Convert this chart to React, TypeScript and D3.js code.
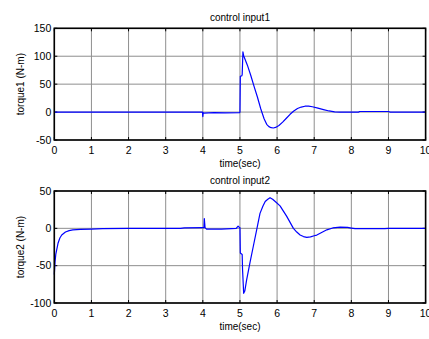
import React from "react";
import * as d3 from "d3";

// Simulated control inputs (N-m) over time (sec)
const time1 = [0, 3.99, 4.0, 4.01, 4.03, 4.3, 4.6, 4.99, 5.0, 5.01, 5.05, 5.06, 5.08, 5.1, 5.2, 5.29, 5.38, 5.47, 5.56, 5.65, 5.72, 5.78, 5.84, 5.9, 5.96, 6.05, 6.15, 6.25, 6.35, 6.45, 6.55, 6.65, 6.75, 6.85, 6.95, 7.1, 7.25, 7.4, 7.55, 7.7, 8.2, 8.22, 9.0, 9.05, 10];
const torque1 = [0, 0, -8, -1, -2, -1, -1.5, -1, 0, 64, 65, 67, 108, 101, 84, 66, 46, 27, 6, -12, -22, -26, -28, -28.5, -27.5, -24, -18, -11, -4, 2, 6.5, 9, 10.5, 10.5, 9.5, 7, 4.5, 2, 0.5, 0, 0, 1, 1, 0, 0];

const time2 = [0, 0.02, 0.04, 0.06, 0.1, 0.15, 0.2, 0.3, 0.4, 0.5, 0.7, 1.0, 1.3, 2.0, 3.4, 3.5, 4.0, 4.03, 4.04, 4.06, 4.1, 4.5, 4.9, 4.95, 4.99, 5.0, 5.01, 5.06, 5.07, 5.1, 5.13, 5.18, 5.27, 5.36, 5.45, 5.54, 5.62, 5.68, 5.75, 5.81, 5.88, 5.95, 6.08, 6.17, 6.26, 6.35, 6.44, 6.53, 6.62, 6.71, 6.8, 6.9, 7.0, 7.07, 7.2, 7.34, 7.5, 7.7, 7.9, 8.0, 8.1, 8.9, 9.0, 10];
const torque2 = [-62, -45, -35, -30, -20, -13, -9, -5, -3, -2, -1.5, -1, -0.5, 0, 0, 0.5, 1, 1, 13, 1, -1, -1, 0, 3, 1, 1, -33, -35, -55, -87, -84, -69, -46, -24, -2, 20, 30, 36, 39, 41, 39, 36, 30, 23, 16, 8, 0, -5, -9, -11, -12, -11.5, -10, -9, -5.5, -2, 0.5, 1.5, 1.2, 0.3, -0.5, -0.5, 0, 0];

const xTicks = [0, 1, 2, 3, 4, 5, 6, 7, 8, 9, 10];
const yTicks1 = [-50, 0, 50, 100, 150];
const yTicks2 = [-100, -50, 0, 50];

const FONT = "'Liberation Sans', Arial, sans-serif";

type PanelProps = {
  top: number;
  bottom: number;
  title: string;
  ylabel: string;
  yDomain: [number, number];
  yTicks: number[];
  t: number[];
  v: number[];
};

const LEFT = 54.3;
const RIGHT = 425.6;

function Panel({ top, bottom, title, ylabel, yDomain, yTicks, t, v }: PanelProps) {
  const x = d3.scaleLinear().domain([0, 10]).range([LEFT, RIGHT]);
  const y = d3.scaleLinear().domain(yDomain).range([bottom, top]);
  const line = d3
    .line<number>()
    .x((_, i) => x(t[i]))
    .y((d) => y(d));
  const path = line(v) || "";
  const midX = (LEFT + RIGHT) / 2;
  const midY = (top + bottom) / 2;
  return (
    <g fontFamily={FONT} fontSize={10.5} fill="#000">
      {/* grid */}
      {xTicks.map((tk) => (
        <line key={"gx" + tk} x1={x(tk)} x2={x(tk)} y1={top} y2={bottom} stroke="#8e8e8e" strokeWidth={1} />
      ))}
      {yTicks.map((tk) => (
        <line key={"gy" + tk} x1={LEFT} x2={RIGHT} y1={y(tk)} y2={y(tk)} stroke="#8e8e8e" strokeWidth={1} />
      ))}
      {/* inward tick marks */}
      {xTicks.map((tk) => (
        <g key={"tx" + tk}>
          <line x1={x(tk)} x2={x(tk)} y1={top} y2={top + 3} stroke="#000" />
          <line x1={x(tk)} x2={x(tk)} y1={bottom} y2={bottom - 3} stroke="#000" />
        </g>
      ))}
      {yTicks.map((tk) => (
        <g key={"ty" + tk}>
          <line x1={LEFT} x2={LEFT + 3} y1={y(tk)} y2={y(tk)} stroke="#000" />
          <line x1={RIGHT} x2={RIGHT - 3} y1={y(tk)} y2={y(tk)} stroke="#000" />
        </g>
      ))}
      {/* data */}
      <path d={path} fill="none" stroke="#0000ff" strokeWidth={1.2} strokeLinejoin="round" />
      {/* frame */}
      <rect x={LEFT} y={top} width={RIGHT - LEFT} height={bottom - top} fill="none" stroke="#000" strokeWidth={1.6} />
      {/* tick labels */}
      {xTicks.map((tk) => (
        <text key={"lx" + tk} x={x(tk)} y={bottom + 14} textAnchor="middle">
          {tk}
        </text>
      ))}
      {yTicks.map((tk) => (
        <text key={"ly" + tk} x={LEFT - 3} y={y(tk) + 3.8} textAnchor="end">
          {tk}
        </text>
      ))}
      <text x={midX} y={top - 7} textAnchor="middle" fontSize={10}>
        {title}
      </text>
      <text x={midX} y={bottom + 27} textAnchor="middle" fontSize={10}>
        time(sec)
      </text>
      <text x={0} y={0} textAnchor="middle" fontSize={10} transform={`translate(24,${midY}) rotate(-90)`}>
        {ylabel}
      </text>
    </g>
  );
}

export default function App() {
  return (
    <svg
      width={429}
      height={339}
      style={{ position: "absolute", left: 0, top: 0, background: "#fff" }}
    >
      <rect x={0} y={0} width={429} height={339} fill="#fff" />
      <Panel
        top={28.3}
        bottom={140}
        title="control input1"
        ylabel="torque1 (N-m)"
        yDomain={[-50, 150]}
        yTicks={yTicks1}
        t={time1}
        v={torque1}
      />
      <Panel
        top={191}
        bottom={303}
        title="control input2"
        ylabel="torque2 (N-m)"
        yDomain={[-100, 50]}
        yTicks={yTicks2}
        t={time2}
        v={torque2}
      />
    </svg>
  );
}
